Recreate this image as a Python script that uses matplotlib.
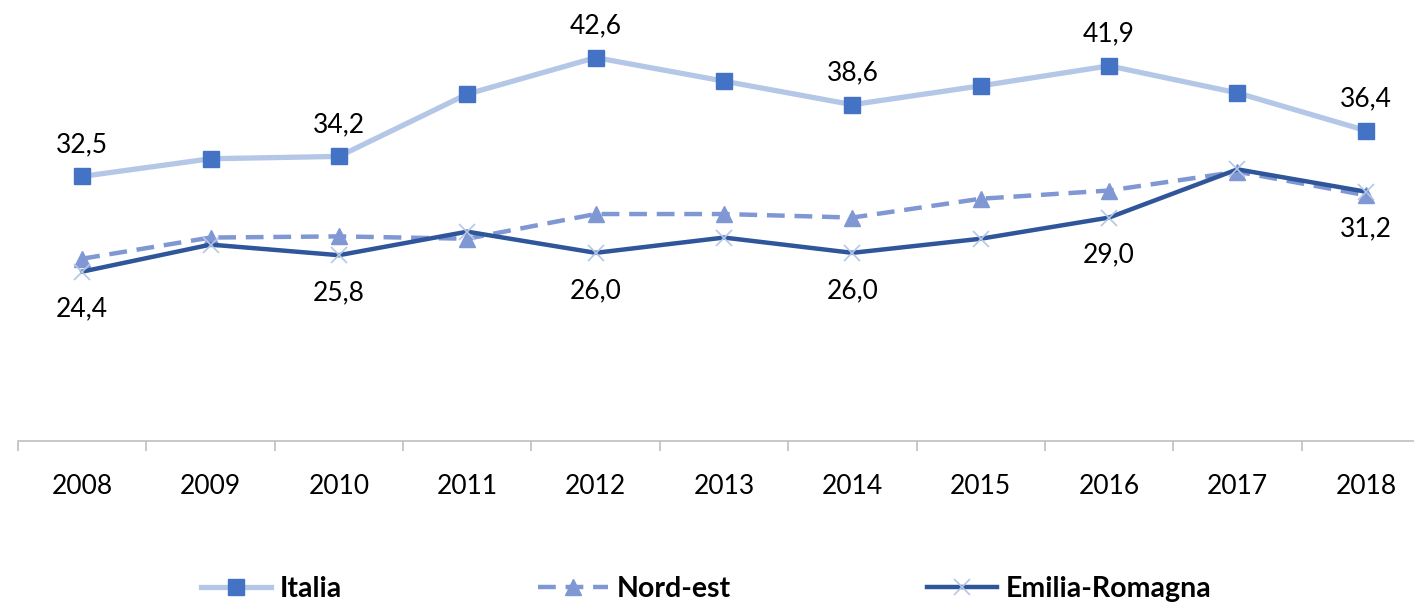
import numpy as np
import matplotlib.pyplot as plt
from matplotlib.ticker import FixedLocator

# dati
anni = ["2008", "2009", "2010", "2011", "2012", "2013", "2014", "2015", "2016", "2017", "2018"]
italia = [32.5, 34.0, 34.2, 39.5, 42.6, 40.6, 38.6, 40.2, 41.9, 39.6, 36.4]
nord_est = [25.5, 27.3, 27.4, 27.2, 29.3, 29.3, 29.0, 30.6, 31.3, 32.9, 30.9]
emilia = [24.4, 26.7, 25.8, 27.8, 26.0, 27.3, 26.0, 27.2, 29.0, 33.1, 31.2]

# etichette mostrate (anni pari)
idx_etichette = [0, 2, 4, 6, 8, 10]

plt.rcParams['font.family'] = ['Lato', 'DejaVu Sans']

fig = plt.figure(figsize=(14.14, 6.05), dpi=100)
ax = fig.add_axes([18 / 1414, 164 / 605, 1412 / 1414, 441 / 605])

x = np.arange(len(anni))

ax.plot(x, italia, color="#B4C7E7", lw=3.8, marker="s", ms=11,
        mfc="#4472C4", mec="#4472C4", label="Italia", zorder=3)
ax.plot(x, nord_est, color="#7F97D3", lw=3.2, ls=(0, (4, 2.2)), marker="^", ms=11,
        mfc="#7F97D3", mec="#7F97D3", label="Nord-est", zorder=3)
ax.plot(x, emilia, color="#2F559A", lw=3.2, marker="x", ms=11, mew=1.2,
        mfc="#B4C7E7", mec="#B4C7E7", label="Emilia-Romagna", zorder=4)

for i in idx_etichette:
    ax.annotate(f"{italia[i]:.1f}".replace(".", ","), (x[i], italia[i]),
                xytext=(0, 23), textcoords="offset points",
                ha="center", va="center", fontsize=19)
    ax.annotate(f"{emilia[i]:.1f}".replace(".", ","), (x[i], emilia[i]),
                xytext=(0, -27), textcoords="offset points",
                ha="center", va="center", fontsize=19)

ax.set_xlim(-0.5, len(anni) - 0.5)
ax.set_ylim(10, 47.5)

ax.set_xticks(x)
ax.set_xticklabels(anni, fontsize=19)
ax.tick_params(axis="x", which="major", length=0, pad=24)
ax.xaxis.set_minor_locator(FixedLocator(np.arange(-0.5, len(anni), 1)))
ax.tick_params(axis="x", which="minor", length=7, width=1.2, color="#BFBFBF")
ax.set_yticks([])

for s in ["top", "right", "left"]:
    ax.spines[s].set_visible(False)
ax.spines["bottom"].set_color("#BFBFBF")
ax.spines["bottom"].set_linewidth(1.2)

fig.legend(loc="center", bbox_to_anchor=(0.4995, 0.026), ncol=3, frameon=False,
           prop={"size": 20.5, "weight": "bold"}, handlelength=2.45,
           handletextpad=0.3, columnspacing=6.9)

fig.savefig("out.png", dpi=100)
